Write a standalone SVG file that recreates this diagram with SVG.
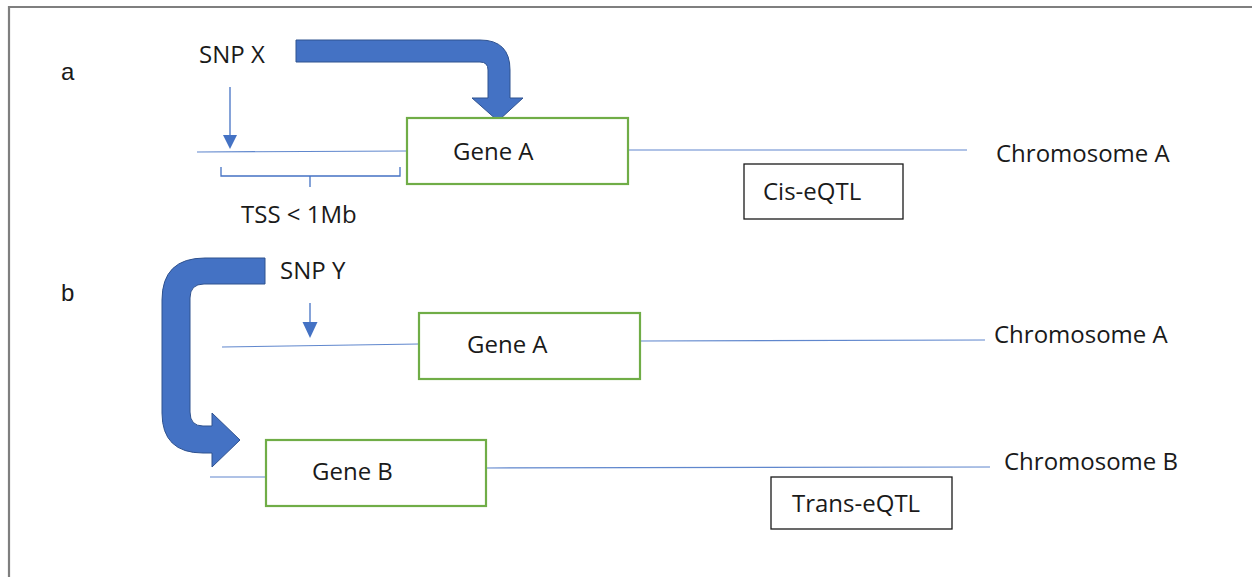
<svg xmlns="http://www.w3.org/2000/svg" width="1252" height="577" viewBox="0 0 1252 577">
<style>
text{font-family:"Open Sans","Liberation Sans",sans-serif;font-size:24px;fill:#1a1a1a}
.lbl{font-family:"Liberation Sans",Arial,sans-serif;font-size:24px}
.gene{fill:#fff;stroke:#70AD47;stroke-width:2.2}
.qbox{fill:#fff;stroke:#1a1a1a;stroke-width:1.3}
.chr{stroke:#4472C4;stroke-width:1.2;fill:none;opacity:0.85}
.big{fill:#4472C4;stroke:#2F528F;stroke-width:1}
.thin{stroke:#4472C4;stroke-width:1.3;fill:none}
.head{fill:#4472C4}
</style>
<rect width="1252" height="577" fill="#fff"/>
<path d="M9,577 L9,7 L1252,7" fill="none" stroke="#7f7f7f" stroke-width="2.2"/>

<text class="lbl" x="61" y="80">a</text>
<text class="lbl" x="61" y="301">b</text>

<g id="connectors">
  <line class="chr" x1="197" y1="152" x2="407" y2="151"/>
  <line class="chr" x1="628" y1="150" x2="967" y2="150"/>
  <line class="chr" x1="222" y1="347" x2="419" y2="344"/>
  <line class="chr" x1="640" y1="341" x2="985" y2="340"/>
  <line class="chr" x1="210" y1="477" x2="266" y2="477"/>
  <line class="chr" x1="486" y1="468" x2="990" y2="467"/>
  <line class="thin" x1="230" y1="87" x2="230" y2="136"/>
  <path class="head" d="M223,135 L237,135 L230,149 Z"/>
  <line class="thin" x1="310" y1="303" x2="310" y2="323"/>
  <path class="head" d="M302.5,322 L317.5,322 L310,338 Z"/>
  <path class="thin" d="M221,167 L221,176 L310,176 L310,187 M310,176 L400,176 L400,167"/>
  <path class="big" d="M296,40 L480,40 Q510,40 510,70 L510,98 L523,98 L498,121 L472,98 L488,98 L488,70 Q488,62 480,62 L296,62 Z"/>
  <path class="big" d="M265,258 L205,258 Q162,258 162,300 L162,413 Q162,453 203,453 L212,453 L212,467 L240,440 L212,413 L212,426 L203,426 Q190,426 190,412 L190,298 Q190,284 204,284 L265,284 Z"/>
</g>

<g id="snpx"><text x="199" y="63">SNP X</text></g>
<g id="tss"><text x="241" y="223">TSS &lt; 1Mb</text></g>
<g id="geneA1">
  <rect class="gene" x="407" y="118" width="221" height="66"/>
  <text x="453" y="160">Gene A</text>
</g>
<g id="chrA1"><text x="996" y="162">Chromosome A</text></g>
<g id="cis">
  <rect class="qbox" x="744" y="164" width="159" height="55"/>
  <text x="763" y="200">Cis-eQTL</text>
</g>

<g id="snpy"><text x="280" y="279">SNP Y</text></g>
<g id="geneA2">
  <rect class="gene" x="419" y="313" width="221" height="66"/>
  <text x="467" y="353">Gene A</text>
</g>
<g id="chrA2"><text x="994" y="343">Chromosome A</text></g>
<g id="geneB">
  <rect class="gene" x="266" y="440" width="220" height="66"/>
  <text x="312" y="480">Gene B</text>
</g>
<g id="chrB"><text x="1004" y="470">Chromosome B</text></g>
<g id="trans">
  <rect class="qbox" x="771" y="477" width="181" height="52"/>
  <text x="792" y="512">Trans-eQTL</text>
</g>
</svg>
